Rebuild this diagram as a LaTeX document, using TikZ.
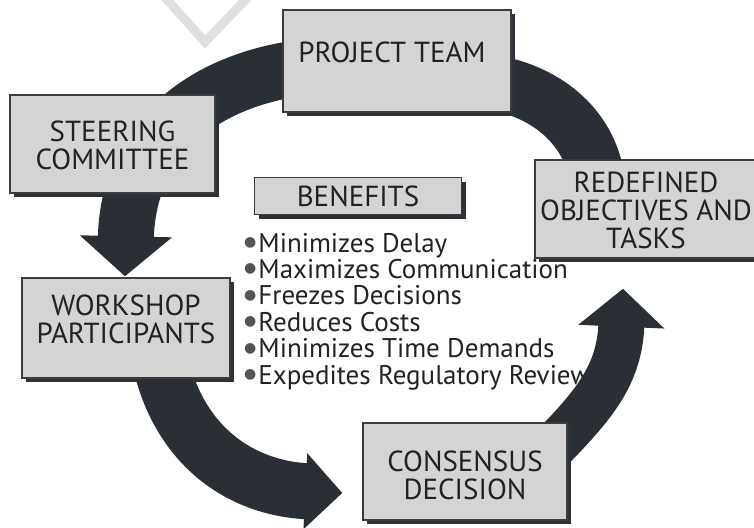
\documentclass[tikz,border=0pt]{standalone}
\usepackage{fontspec}
\setmainfont{PT Sans}
\newfontfamily\dejavu{DejaVu Sans}
\usetikzlibrary{arrows.meta,shadows,calc}
\pgfdeclarelayer{bg}
\pgfsetlayers{bg,main}
\definecolor{arrowc}{RGB}{42,47,53}
\definecolor{boxfill}{RGB}{212,212,212}
\definecolor{boxline}{RGB}{60,60,60}
\definecolor{shadowc}{RGB}{45,50,56}
\definecolor{textc}{RGB}{34,34,34}
\definecolor{bulc}{RGB}{85,85,85}
\newcommand{\bul}{{\color{bulc}\raisebox{5.5pt}{\fontsize{14}{14}\dejavu ●}}\kern2pt}
\begin{document}
\begin{tikzpicture}[x=1pt,y=-1pt,
  box/.style={draw=boxline, line width=1.4pt, fill=boxfill, inner sep=0pt,
    drop shadow={shadow xshift=4pt, shadow yshift=-4pt, fill=shadowc, opacity=1}},
  boxtxt/.style={align=center, text=textc, inner sep=0pt,
    font=\fontsize{29}{28}\selectfont},
  item/.style={anchor=base west, inner sep=0pt, text=textc,
    font=\fontsize{27}{26}\selectfont},
  band/.style={line width=#1, draw=arrowc}]
\useasboundingbox (0,0) rectangle (754,527);

% boxes
\node[box, minimum width=228pt, minimum height=102pt] (pt) at (397,61) {};
\node[boxtxt] (ptT) at (392,52) {PROJECT TEAM};

\node[box, minimum width=205pt, minimum height=98pt] (sc) at (112.5,144) {};
\node[boxtxt] (scT) at (112.5,145) {STEERING\\COMMITTEE};

\node[box, minimum width=207pt, minimum height=37pt] (bn) at (358,196) {};
\node[boxtxt] (bnT) at (358,196) {BENEFITS};

\node[box, minimum width=222pt, minimum height=98pt] (rd) at (646,209) {};
\node[boxtxt] (rdT) at (646,210) {REDEFINED\\OBJECTIVES AND\\TASKS};

\node[box, minimum width=208pt, minimum height=100pt] (wp) at (126,328) {};
\node[boxtxt] (wpT) at (126,319) {WORKSHOP\\PARTICIPANTS};

\node[box, minimum width=204pt, minimum height=97pt] (cd) at (465,471.5) {};
\node[boxtxt] (cdT) at (465,475) {CONSENSUS\\DECISION};

\begin{pgfonlayer}{bg}
  % faint halftone mark at the top
  \draw[line width=9pt, gray!24] (162,-6) -- (205,42) -- (251,-6);
  % benefits list
  \node[item] (b1) at (244,252)   {\bul Minimizes Delay};
  \node[item] (b2) at (244,278.4) {\bul Maximizes Communication};
  \node[item] (b3) at (244,304.8) {\bul Freezes Decisions};
  \node[item] (b4) at (244,331.2) {\bul Reduces Costs};
  \node[item] (b5) at (244,357.6) {\bul Minimizes Time Demands};
  \node[item] (b6) at (244,384)   {\bul Expedites Regulatory Review};
  % cycle arrows
  \draw[band=56pt, -{Triangle[width=90pt,length=40pt]}]
    ($(pt.west)+(17,7)$) .. controls (200,82) and (128,140) .. ($(wp.north)+(-1,-1)$);
  \draw[band=56pt, -{Triangle[width=74pt,length=37pt]}]
    ($(wp.south)+(32,-28)$) .. controls (175,445) and (240,488) .. ($(cd.west)+(-20,21.5)$);
  \draw[band=46pt, -{Triangle[width=84pt,length=38pt]}]
    ($(cd.north east)+(-37,47)$) .. controls (590,410) and (619,380) .. ($(rd.south)+(-23,30)$);
  \draw[band=55pt]
    ($(pt.east)+(-21,21)$) .. controls (550,92) and (592,130) .. ($(rd.north)+(-48,25)$);
\end{pgfonlayer}
\end{tikzpicture}
\end{document}
